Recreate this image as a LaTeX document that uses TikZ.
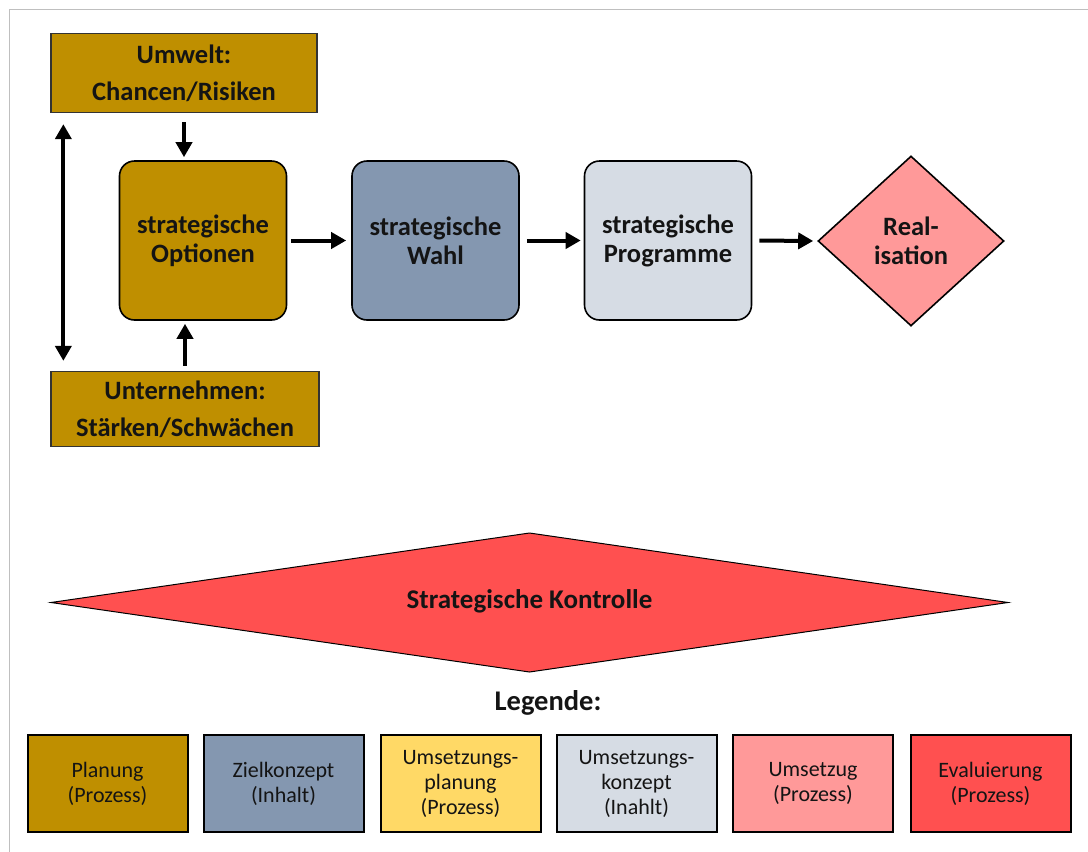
\documentclass[tikz,border=0pt]{standalone}
\usepackage{fontspec}
\setmainfont{Carlito}
\usetikzlibrary{arrows.meta,shapes.geometric}
\definecolor{planung}{HTML}{BF8F00}
\definecolor{ziel}{HTML}{8497B0}
\definecolor{umsplan}{HTML}{FFD966}
\definecolor{umskonz}{HTML}{D6DCE4}
\definecolor{umsetz}{HTML}{FF9999}
\definecolor{evalu}{HTML}{FF5050}
\definecolor{framegray}{HTML}{BFBFBF}
\definecolor{txt}{HTML}{141414}
\tikzset{
  x=1pt, y=-1pt,
  headbox/.style={draw=black!80, line width=1.3pt, fill=planung, inner sep=0pt,
    align=center, text=txt, font=\fontsize{26.5}{37}\selectfont\bfseries},
  stepbox/.style={draw=black, line width=1.6pt, rounded corners=15pt, inner sep=0pt,
    minimum width=167pt, minimum height=159pt, align=center, text=txt,
    font=\fontsize{26.5}{29}\selectfont\bfseries},
  legbox/.style={draw=black, line width=2pt, inner sep=0pt,
    minimum width=160pt, minimum height=97pt, align=center, text=txt,
    font=\fontsize{22}{25}\selectfont},
  fat/.style={line width=4pt, -{Triangle[width=16pt,length=15pt]}},
  fatboth/.style={line width=4pt, {Triangle[width=16pt,length=15pt]}-{Triangle[width=16pt,length=15pt]}},
}
\begin{document}
\begin{tikzpicture}
\useasboundingbox (0,0) rectangle (1088,852);
% outer frame (top and left edges only)
\draw[framegray, line width=1.5pt] (9.5,852) -- (9.5,9.5) -- (1088,9.5);

% environment and company analysis
\node[headbox, minimum width=266pt, minimum height=79pt] (umwelt) at (184,73)
  {Umwelt:\\Chancen/Risiken};
\node[headbox, minimum width=268pt, minimum height=75pt] (unternehmen) at (185,409)
  {Unternehmen:\\Stärken/Schwächen};

% process steps
\node[stepbox, fill=planung] (optionen) at (203,240.5) {strategische\\Optionen};
\node[stepbox, fill=ziel] (wahl) at (435.5,240.5) {strategische\\Wahl};
\node[stepbox, fill=umskonz] (programme) at (668,240.5) {strategische\\Programme};
\node[diamond, draw=black, line width=1.6pt, fill=umsetz, inner sep=0pt,
  minimum width=186pt, minimum height=170pt, align=center, text=txt,
  font=\fontsize{26.5}{29}\selectfont\bfseries] (real) at (911,241) {Real-\\isation};

% connectors
\draw[fat, shorten <=9pt, shorten >=3pt] (umwelt.south) -- (umwelt.south |- optionen.north);
\draw[fat, shorten <=5pt, shorten >=3pt] (unternehmen.north) -- (unternehmen.north |- optionen.south);
\draw[fatboth, shorten <=11pt, shorten >=10pt]
  ([xshift=13pt]umwelt.south west) -- ([xshift=13pt]unternehmen.north west);
\draw[fat, shorten <=4pt, shorten >=5pt] (optionen.east) -- (wahl.west);
\draw[fat, shorten <=7pt, shorten >=3pt] (wahl.east) -- (programme.west);
\draw[fat, shorten <=7pt, shorten >=4pt] (programme.east) -- (real.west);

% strategic control: flat diamond around its label
\coordinate (kc) at (529.5,601);
\draw[fill=evalu, line width=1pt]
  ([xshift=-478.5pt,yshift=-1.5pt]kc) --
  ([yshift=68pt]kc) --
  ([xshift=478.5pt,yshift=-1.5pt]kc) --
  ([yshift=-71pt]kc) -- cycle;
\node[text=txt, font=\fontsize{27}{31}\selectfont\bfseries] (kontrolle) at (kc)
  {Strategische Kontrolle};

% legend
\node[text=txt, font=\fontsize{28.5}{32}\selectfont\bfseries] (legende) at (548,703) {Legende:};
\node[legbox, fill=planung] (l1) at (107.5,783.5) {Planung\\(Prozess)};
\node[legbox, fill=ziel] (l2) at (283.5,783.5) {Zielkonzept\\(Inhalt)};
\node[legbox, fill=umsplan] (l3) at (460.5,783.5) {Umsetzungs-\\planung\\(Prozess)};
\node[legbox, fill=umskonz] (l4) at (636.5,783.5) {Umsetzungs-\\konzept\\(Inahlt)};
\node[legbox, fill=umsetz] (l5) at (813,783.5) {Umsetzug\\(Prozess)};
\node[legbox, fill=evalu] (l6) at (990.5,783.5) {Evaluierung\\(Prozess)};
\end{tikzpicture}
\end{document}
